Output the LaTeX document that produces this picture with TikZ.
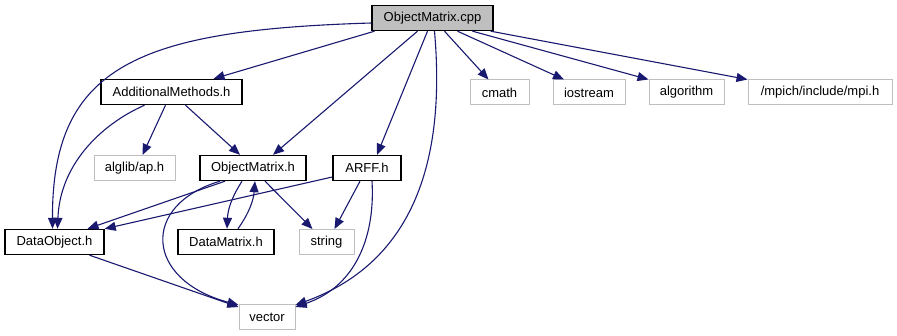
\documentclass[tikz,border=0pt]{standalone}
\usepackage{fontspec}
\setmainfont{Liberation Sans}
\usepackage{tikz}
\usetikzlibrary{arrows.meta, positioning, calc}
\definecolor{edgeblue}{rgb}{0.098,0.098,0.439}
\definecolor{boxgray}{rgb}{0.75,0.75,0.75}

\begin{document}
\begin{tikzpicture}[x=1pt, y=-1pt,
		font=\fontsize{13}{15}\selectfont,
		hdr/.style={draw=black, line width=1.4pt, minimum height=25pt, inner sep=0pt},
		sys/.style={draw=boxgray, line width=1pt, minimum height=25pt, inner sep=0pt},
		dep/.style={draw=edgeblue, line width=1.1pt, -{Triangle[length=11pt,width=9pt]}}]
		\useasboundingbox (0,0) rectangle (897,336);

		% the file itself
		\node[hdr, fill=boxgray, minimum width=121pt] (cpp) at (432.5,18) {ObjectMatrix.cpp};

		% project headers
		\node[hdr, minimum width=141pt] (addm) at (171.5,92) {AdditionalMethods.h};
		\node[hdr, minimum width=106pt] (omh) at (253,168) {ObjectMatrix.h};
		\node[hdr, minimum width=68pt] (arff) at (367,168) {ARFF.h};
		\node[hdr, minimum width=99pt] (dobj) at (54.5,242) {DataObject.h};
		\node[hdr, minimum width=96pt] (dmat) at (226,242) {DataMatrix.h};

		% system headers
		\node[sys, minimum width=81pt] (alglib) at (134.5,168) {alglib/ap.h};
		\node[sys, minimum width=55pt] (string) at (326.5,242) {string};
		\node[sys, minimum width=56pt] (vector) at (267,317) {vector};
		\node[sys, minimum width=59pt] (cmath) at (499.5,92.5) {cmath};
		\node[sys, minimum width=72pt] (iostream) at (589,92.5) {iostream};
		\node[sys, minimum width=75pt] (algo) at (686.5,92.5) {algorithm};
		\node[sys, minimum width=144pt] (mpi) at (820,92.5) {/mpich/include/mpi.h};

		% includes of ObjectMatrix.cpp
		\draw[dep] ([yshift=-5pt]cpp.west) .. controls (140,30) and (52,65) .. ([xshift=-2pt]dobj.north);
		\draw[dep] ([xshift=-58pt]cpp.south) -- ([xshift=42pt]addm.north);
		\draw[dep] ([xshift=-15pt]cpp.south) -- ([xshift=20pt]omh.north);
		\draw[dep] ([xshift=-5pt]cpp.south) -- ([xshift=10pt]arff.north);
		\draw[dep] ([xshift=2pt]cpp.south) .. controls (445,150) and (420,260) .. ([yshift=-1pt]vector.north east);
		\draw[dep] ([xshift=12pt]cpp.south) -- ([xshift=-11pt]cmath.north);
		\draw[dep] ([xshift=25pt]cpp.south) -- ([xshift=-25pt]iostream.north);
		\draw[dep] ([xshift=40pt]cpp.south) -- (algo.north west);
		\draw[dep] ([xshift=-3pt]cpp.south east) -- (mpi.north west);

		% includes of AdditionalMethods.h
		\draw[dep] ([xshift=-27pt]addm.south) .. controls (100,125) and (60,165) .. ([xshift=3pt]dobj.north);
		\draw[dep] ([xshift=-6pt]addm.south) -- ([xshift=8pt]alglib.north);
		\draw[dep] ([xshift=14pt]addm.south) -- ([xshift=-13pt]omh.north);

		% includes of ObjectMatrix.h
		\draw[dep] ([xshift=-28pt]omh.south) -- ([xshift=33pt]dobj.north);
		\draw[dep] ([xshift=-11pt]omh.south) to[bend right=15] ([xshift=1pt]dmat.north);
		\draw[dep] ([xshift=12pt]dmat.north) to[bend right=15] ([xshift=2pt]omh.south);
		\draw[dep] ([xshift=12pt]omh.south) -- ([xshift=-14pt]string.north);
		\draw[dep] ([xshift=-33pt]omh.south) .. controls (140,205) and (145,280) .. ([yshift=-1pt]vector.north west);

		% includes of ARFF.h
		\draw[dep] ([yshift=-9pt]arff.west) -- (dobj.north east);
		\draw[dep] ([xshift=-7pt]arff.south) -- ([xshift=8pt]string.north);
		\draw[dep] ([xshift=5pt]arff.south) .. controls (375,230) and (360,285) .. ([yshift=-3pt]vector.north east);

		% includes of DataObject.h
		\draw[dep] ([xshift=35pt]dobj.south) -- ([yshift=-3pt]vector.north west);
	\end{tikzpicture}
\end{document}
